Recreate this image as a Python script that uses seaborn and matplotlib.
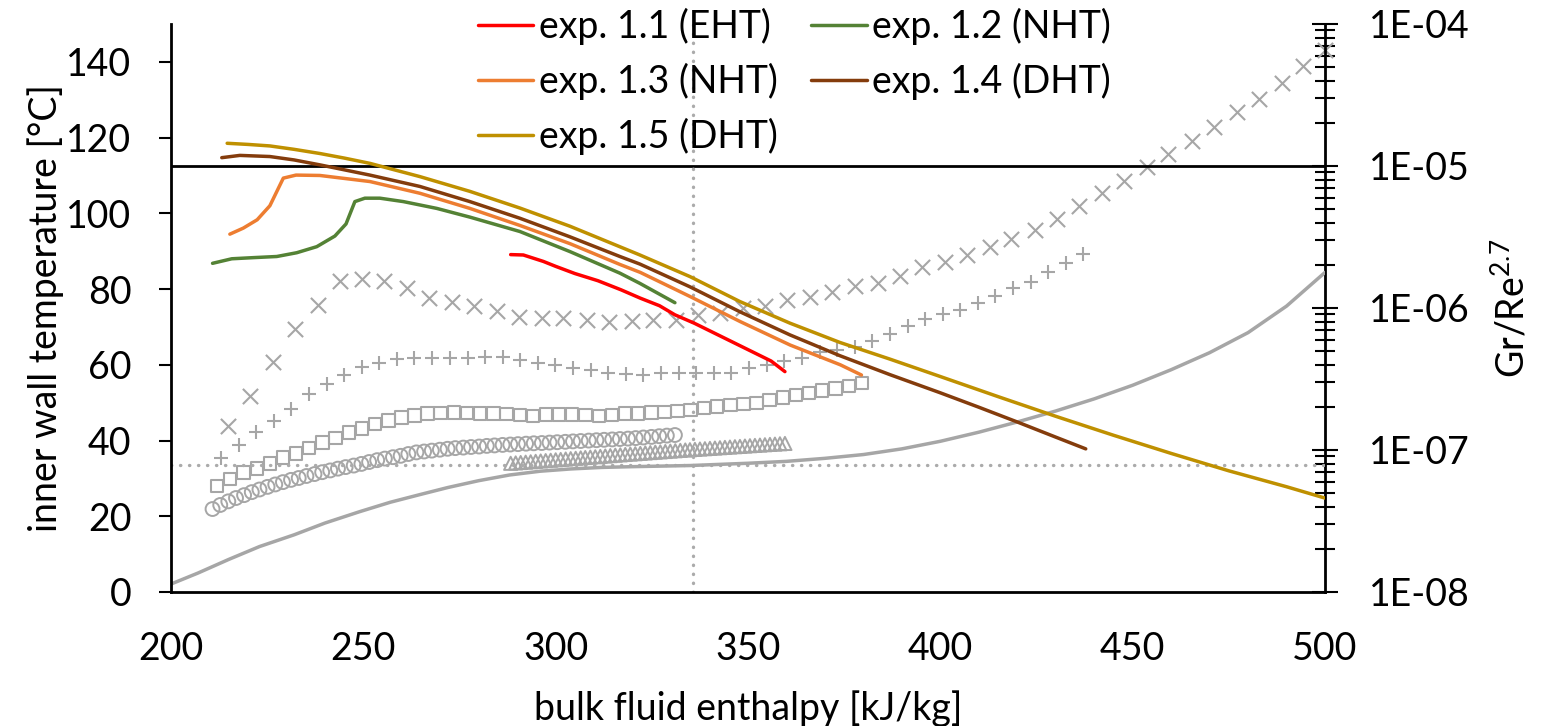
import numpy as np
import matplotlib
matplotlib.use("Agg")
import matplotlib.pyplot as plt
import seaborn as sns
from matplotlib.ticker import FixedLocator, FuncFormatter, LogLocator, NullFormatter

# ---------------- data ----------------
x_ticks = [200, 250, 300, 350, 400, 450, 500]
y_ticks = [0, 20, 40, 60, 80, 100, 120, 140]

labels = ["exp. 1.1 (EHT)", "exp. 1.2 (NHT)", "exp. 1.3 (NHT)", "exp. 1.4 (DHT)", "exp. 1.5 (DHT)"]
colors = ["#FF0000", "#548235", "#ED7D31", "#843C0C", "#BF9000"]

# inner wall temperature [°C] vs bulk enthalpy [kJ/kg]
exp11_h = [288.3, 291.6, 296.8, 300.0, 305.0, 311.0, 317.0, 322.0, 327.0, 331.0, 336.0, 344.0, 352.0, 356.0, 359.6]
exp11_T = [89.1, 89.0, 87.3, 86.0, 84.1, 82.2, 79.8, 77.6, 75.6, 73.2, 71.0, 67.0, 63.0, 61.0, 58.2]

exp12_h = [210.8, 215.8, 221.4, 227.5, 232.7, 237.9, 242.6, 245.5, 247.8, 250.4, 254.3, 260.4, 269.1, 277.7,
           290.7, 303.7, 316.7, 321.9, 331.0]
exp12_T = [86.8, 88.0, 88.3, 88.6, 89.6, 91.2, 94.0, 97.2, 103.1, 104.0, 104.0, 103.1, 101.3, 99.0,
           95.2, 89.9, 84.2, 81.5, 76.4]

exp13_h = [215.3, 218.8, 222.4, 225.7, 229.2, 232.5, 238.7, 251.7, 264.7, 277.7, 290.7, 303.7, 316.7, 322.0,
           335.0, 348.0, 361.0, 374.0, 379.5]
exp13_T = [94.5, 96.1, 98.3, 102.0, 109.3, 110.1, 110.0, 108.4, 105.3, 101.3, 96.8, 92.0, 86.5, 84.4,
           78.0, 71.4, 65.2, 60.0, 57.3]

exp14_h = [213.2, 217.9, 225.7, 232.0, 238.7, 245.0, 251.7, 264.7, 277.7, 290.7, 303.7, 316.7, 321.9, 334.9,
           347.9, 360.9, 373.9, 386.9, 400.0, 410.0, 420.0, 430.0, 437.8]
exp14_T = [114.7, 115.3, 115.0, 114.1, 112.8, 111.5, 110.1, 107.1, 103.1, 98.7, 93.8, 88.6, 86.6, 80.6,
           74.0, 67.9, 62.4, 57.4, 52.6, 48.8, 44.9, 40.9, 37.8]

exp15_h = [214.6, 220.0, 225.7, 232.0, 238.7, 245.0, 251.7, 264.7, 277.7, 290.7, 303.7, 321.9, 334.9, 347.9,
           360.9, 373.9, 386.9, 400.0, 415.0, 430.0, 445.0, 460.0, 475.0, 490.0, 500.0]
exp15_T = [118.5, 118.2, 117.8, 116.9, 115.8, 114.6, 113.2, 109.7, 105.8, 101.4, 96.6, 89.0, 83.3, 76.7,
           71.0, 65.9, 61.5, 56.9, 51.6, 46.4, 41.4, 36.6, 32.0, 27.8, 24.8]

# bulk fluid temperature [°C]
bulk_h = [200.0, 207.0, 215.0, 223.0, 232.0, 240.0, 249.0, 257.0, 265.0, 272.0, 280.0, 288.0, 296.0, 304.0,
          312.0, 320.0, 335.0, 350.0, 360.0, 370.0, 380.0, 390.0, 400.0, 410.0, 420.0, 430.0, 440.0, 450.0,
          460.0, 470.0, 480.0, 490.0, 500.0]
bulk_T = [2.1, 5.0, 8.6, 12.0, 15.1, 18.2, 21.2, 23.7, 25.8, 27.6, 29.4, 30.9, 31.9, 32.5,
          32.9, 33.1, 33.4, 34.0, 34.5, 35.3, 36.3, 37.8, 39.8, 42.2, 44.9, 47.8, 51.0, 54.6,
          58.7, 63.2, 68.5, 75.5, 84.4]

# pseudo-critical markers and buoyancy criterion
h_pc = 335.7
T_pc = 33.5
grre_limit = 1e-5

# Gr/Re^2.7 (right axis)
gr15_h = [214.9, 220.5, 226.4, 232.2, 238.1, 243.9, 249.6, 255.4, 261.3, 267.1, 273.0, 278.8, 284.7, 290.5,
          296.4, 302.0, 308.1, 313.9, 319.8, 325.4, 331.3, 337.1, 342.7, 348.6, 354.4, 360.2, 366.1, 371.9,
          377.8, 383.7, 389.5, 395.3, 401.2, 407.0, 412.9, 418.5, 424.6, 430.2, 436.1, 442.1, 447.7, 453.6,
          459.2, 465.3, 471.1, 477.0, 482.8, 488.7, 494.3, 500.0]
gr15_v = [1.48e-7, 2.41e-7, 4.19e-7, 7.11e-7, 1.05e-6, 1.55e-6, 1.60e-6, 1.56e-6, 1.38e-6, 1.17e-6,
          1.11e-6, 1.03e-6, 9.53e-7, 8.71e-7, 8.45e-7, 8.45e-7, 8.23e-7, 8.01e-7, 8.14e-7, 8.17e-7,
          8.23e-7, 8.93e-7, 9.27e-7, 9.95e-7, 1.03e-6, 1.14e-6, 1.20e-6, 1.30e-6, 1.42e-6, 1.49e-6,
          1.68e-6, 1.93e-6, 2.11e-6, 2.38e-6, 2.71e-6, 3.06e-6, 3.54e-6, 4.20e-6, 5.23e-6, 6.46e-6,
          7.78e-6, 9.84e-6, 1.22e-5, 1.49e-5, 1.87e-5, 2.40e-5, 2.96e-5, 3.84e-5, 5.06e-5, 6.56e-5]

gr14_h = [213.0, 217.6, 222.2, 226.7, 231.3, 235.9, 240.5, 245.0, 249.6, 254.2, 258.8, 263.3, 267.9, 272.5,
          277.1, 281.6, 286.2, 290.8, 295.4, 299.9, 304.5, 309.1, 313.7, 318.2, 322.8, 327.4, 332.0, 336.6,
          341.1, 345.7, 350.3, 354.9, 359.4, 364.0, 368.6, 373.2, 377.7, 382.3, 386.9, 391.5, 396.0, 400.6,
          405.2, 409.8, 414.3, 418.9, 423.5, 428.1, 432.6, 437.2]
gr14_v = [8.79e-8, 1.08e-7, 1.34e-7, 1.61e-7, 1.93e-7, 2.46e-7, 2.90e-7, 3.40e-7, 3.87e-7, 4.12e-7,
          4.35e-7, 4.44e-7, 4.46e-7, 4.44e-7, 4.46e-7, 4.55e-7, 4.50e-7, 4.28e-7, 4.10e-7, 3.94e-7,
          3.76e-7, 3.66e-7, 3.51e-7, 3.43e-7, 3.37e-7, 3.46e-7, 3.47e-7, 3.47e-7, 3.50e-7, 3.51e-7,
          3.75e-7, 4.00e-7, 4.26e-7, 4.48e-7, 4.90e-7, 5.06e-7, 5.34e-7, 5.90e-7, 6.51e-7, 7.47e-7,
          8.30e-7, 9.00e-7, 9.75e-7, 1.08e-6, 1.22e-6, 1.38e-6, 1.52e-6, 1.78e-6, 2.07e-6, 2.40e-6]

gr13_h = [212.0, 215.4, 218.8, 222.3, 225.7, 229.1, 232.5, 235.9, 239.4, 242.8, 246.2, 249.6, 253.0, 256.5,
          259.9, 263.3, 266.7, 270.1, 273.6, 277.0, 280.4, 283.8, 287.2, 290.7, 294.1, 297.5, 300.9, 304.3,
          307.8, 311.2, 314.6, 318.0, 321.4, 324.9, 328.3, 331.7, 335.1, 338.5, 342.0, 345.4, 348.8, 352.2,
          355.6, 359.1, 362.5, 365.9, 369.3, 372.7, 376.2, 379.6]
gr13_v = [5.57e-8, 6.25e-8, 6.92e-8, 7.43e-8, 8.06e-8, 8.88e-8, 9.48e-8, 1.03e-7, 1.13e-7, 1.21e-7,
          1.33e-7, 1.42e-7, 1.52e-7, 1.61e-7, 1.69e-7, 1.75e-7, 1.81e-7, 1.83e-7, 1.84e-7, 1.83e-7,
          1.81e-7, 1.81e-7, 1.79e-7, 1.76e-7, 1.74e-7, 1.78e-7, 1.78e-7, 1.78e-7, 1.76e-7, 1.73e-7,
          1.76e-7, 1.81e-7, 1.81e-7, 1.84e-7, 1.86e-7, 1.88e-7, 1.91e-7, 1.97e-7, 2.02e-7, 2.07e-7,
          2.10e-7, 2.15e-7, 2.25e-7, 2.35e-7, 2.44e-7, 2.53e-7, 2.62e-7, 2.72e-7, 2.82e-7, 2.95e-7]

gr12_h = [210.8, 212.8, 214.9, 216.9, 219.0, 221.0, 223.0, 225.1, 227.1, 229.1,
          231.2, 233.2, 235.2, 237.3, 239.3, 241.4, 243.4, 245.4, 247.5, 249.5,
          251.5, 253.6, 255.6, 257.7, 259.7, 261.7, 263.8, 265.8, 267.8, 269.9,
          271.9, 273.9, 276.0, 278.0, 280.1, 282.1, 284.1, 286.2, 288.2, 290.2,
          292.3, 294.3, 296.4, 298.4, 300.4, 302.5, 304.5, 306.5, 308.6, 310.6,
          312.6, 314.7, 316.7, 318.8, 320.8, 322.8, 324.9, 326.9, 328.9, 331.0]
gr12_v = [3.84e-8, 4.10e-8, 4.35e-8, 4.59e-8, 4.81e-8, 5.05e-8, 5.27e-8, 5.50e-8, 5.72e-8, 5.94e-8,
          6.16e-8, 6.35e-8, 6.56e-8, 6.77e-8, 6.98e-8, 7.18e-8, 7.39e-8, 7.58e-8, 7.77e-8, 7.98e-8,
          8.23e-8, 8.48e-8, 8.70e-8, 8.90e-8, 9.10e-8, 9.37e-8, 9.62e-8, 9.76e-8, 9.90e-8, 1.005e-7,
          1.020e-7, 1.031e-7, 1.040e-7, 1.050e-7, 1.058e-7, 1.069e-7, 1.077e-7, 1.086e-7, 1.093e-7, 1.100e-7,
          1.108e-7, 1.115e-7, 1.120e-7, 1.128e-7, 1.135e-7, 1.142e-7, 1.150e-7, 1.157e-7, 1.165e-7, 1.172e-7,
          1.180e-7, 1.187e-7, 1.195e-7, 1.203e-7, 1.213e-7, 1.225e-7, 1.237e-7, 1.251e-7, 1.263e-7, 1.275e-7]

gr11_h = [288.3, 289.6, 290.9, 292.2, 293.5, 294.8, 296.1, 297.4, 298.7, 300.0, 301.3, 302.6, 303.9, 305.2,
          306.5, 307.7, 309.0, 310.3, 311.6, 312.9, 314.2, 315.5, 316.8, 318.1, 319.4, 320.7, 322.0, 323.3,
          324.6, 325.9, 327.2, 328.5, 329.8, 331.1, 332.4, 333.7, 334.9, 336.2, 337.5, 338.8, 340.1, 341.4,
          342.7, 344.0, 345.3, 346.6, 347.9, 349.2, 350.5, 351.8, 353.1, 354.4, 355.7, 357.0, 358.3, 359.6]
gr11_v = [8.06e-8, 8.11e-8, 8.16e-8, 8.21e-8, 8.26e-8, 8.32e-8, 8.37e-8, 8.42e-8, 8.47e-8, 8.53e-8,
          8.58e-8, 8.64e-8, 8.69e-8, 8.74e-8, 8.80e-8, 8.85e-8, 8.91e-8, 8.96e-8, 9.02e-8, 9.07e-8,
          9.13e-8, 9.19e-8, 9.24e-8, 9.30e-8, 9.36e-8, 9.41e-8, 9.47e-8, 9.53e-8, 9.59e-8, 9.65e-8,
          9.70e-8, 9.76e-8, 9.82e-8, 9.88e-8, 9.94e-8, 1.000e-7, 1.005e-7, 1.010e-7, 1.016e-7, 1.021e-7,
          1.027e-7, 1.032e-7, 1.038e-7, 1.043e-7, 1.049e-7, 1.055e-7, 1.060e-7, 1.066e-7, 1.072e-7, 1.077e-7,
          1.083e-7, 1.089e-7, 1.095e-7, 1.100e-7, 1.106e-7, 1.112e-7]

# ---------------- style ----------------
sns.set_theme(style="white")
FONT = ["Lato", "DejaVu Sans"]
plt.rcParams["font.family"] = FONT
plt.rcParams["mathtext.fontset"] = "custom"
plt.rcParams["mathtext.rm"] = "Lato"
plt.rcParams["mathtext.it"] = "Lato:italic"
for k in ["text.color", "axes.labelcolor", "xtick.color", "ytick.color", "axes.edgecolor"]:
    plt.rcParams[k] = "black"

FS = 27
GRAY = "#A6A6A6"
LW = 2.5

fig = plt.figure(figsize=(15.44, 7.26), dpi=100)
W, H = 1544, 726
ax = fig.add_axes([171 / W, 1 - 592 / H, (1325 - 171) / W, (592 - 24) / H])
ax2 = ax.twinx()
ax.set_zorder(ax2.get_zorder() + 1)
ax.patch.set_visible(False)

# secondary axis markers
mk = dict(ax=ax2, color=GRAY, clip_on=False, legend=False)
sns.scatterplot(x=gr15_h, y=gr15_v, marker="x", s=120, linewidth=1.5, **mk)
sns.scatterplot(x=gr14_h, y=gr14_v, marker="+", s=115, linewidth=1.5, **mk)
sns.scatterplot(x=gr13_h, y=gr13_v, marker="s", s=80, facecolors="none", edgecolor=GRAY, linewidth=1.5, **mk)
sns.scatterplot(x=gr12_h, y=gr12_v, marker="o", s=100, facecolors="none", edgecolor=GRAY, linewidth=1.4, **mk)
sns.scatterplot(x=gr11_h, y=gr11_v, marker="^", s=90, facecolors="none", edgecolor=GRAY, linewidth=1.4, **mk)
ax2.axhline(grre_limit, color="black", lw=2.0, zorder=3)

# primary axis
ax.axhline(T_pc, color="#ABABAB", lw=2.4, ls=(0, (0.1, 2.6)), dash_capstyle="round", zorder=1)
ax.axvline(h_pc, color="#ABABAB", lw=2.4, ls=(0, (0.1, 2.6)), dash_capstyle="round", zorder=1)
sns.lineplot(x=bulk_h, y=bulk_T, ax=ax, color=GRAY, lw=LW, zorder=2)

series = [(exp11_h, exp11_T), (exp12_h, exp12_T), (exp13_h, exp13_T), (exp14_h, exp14_T), (exp15_h, exp15_T)]
handles = []
for (hh, tt), c, lab in zip(series, colors, labels):
    sns.lineplot(x=hh, y=tt, ax=ax, color=c, lw=LW, zorder=4, label=lab, solid_joinstyle="round")
    handles.append(ax.get_lines()[-1])

order = [0, 2, 4, 1, 3]
ax.legend([handles[i] for i in order], [labels[i] for i in order], ncol=2, frameon=False,
          loc="upper left", bbox_to_anchor=(478 / W, 1 - 8 / H), bbox_transform=fig.transFigure,
          fontsize=FS, handlelength=1.47, handletextpad=0.15, columnspacing=0.9,
          labelspacing=0.48, borderpad=0, borderaxespad=0)

# axes limits / ticks
ax.set_xlim(200, 500)
ax.set_ylim(0, 150)
ax.xaxis.set_major_locator(FixedLocator(x_ticks))
ax.yaxis.set_major_locator(FixedLocator(y_ticks))
ax.tick_params(axis="x", direction="out", length=10, width=1.5, pad=18, labelsize=FS)
ax.tick_params(axis="y", direction="out", length=8.5, width=1.5, pad=20, labelsize=FS)
ax.set_xlabel("bulk fluid enthalpy [kJ/kg]", fontsize=FS, labelpad=17)
ax.set_ylabel("inner wall temperature [°C]", fontsize=FS, labelpad=2)

ax2.set_yscale("log")
ax2.set_ylim(1e-8, 1e-4)
ax2.yaxis.set_major_locator(LogLocator(base=10, numticks=10))
ax2.yaxis.set_minor_locator(LogLocator(base=10, subs=np.arange(2, 10), numticks=20))
ax2.yaxis.set_major_formatter(FuncFormatter(lambda v, p: "{:.0E}".format(v)))
ax2.yaxis.set_minor_formatter(NullFormatter())
ax2.tick_params(axis="y", which="major", direction="inout", length=19, width=1.5, pad=22, labelsize=FS)
ax2.tick_params(axis="y", which="minor", direction="inout", length=15, width=1.5)
ax2.set_ylabel("Gr/Re$^{2.7}$", fontsize=FS, labelpad=16)

for a in (ax, ax2):
    a.spines["top"].set_visible(False)
    for s in a.spines.values():
        s.set_linewidth(2.0)
        s.set_color("black")
ax.spines["right"].set_visible(False)
ax2.spines["left"].set_visible(False)
ax2.spines["bottom"].set_visible(False)
ax.grid(False)
ax2.grid(False)

fig.savefig("out.png", dpi=100)
